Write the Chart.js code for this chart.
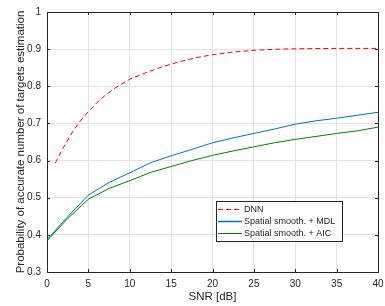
<!DOCTYPE html>
<html>
<head>
<meta charset="utf-8">
<script src="https://cdn.jsdelivr.net/npm/chart.js@4.4.1/dist/chart.umd.min.js"></script>
<style>
  html, body { margin: 0; padding: 0; background: #fff; }
  #chart { display: block; }
</style>
</head>
<body>
<canvas id="chart" width="385" height="306"></canvas>
<script>
// SNR grid for the subspace methods (every 2.5 dB)
const snrSS = [0, 2.5, 5, 7.5, 10, 12.5, 15, 17.5, 20, 22.5, 25, 27.5, 30, 32.5, 35, 37.5, 40];
const mdlValues = [0.387, 0.449, 0.507, 0.541, 0.567, 0.594, 0.613, 0.630, 0.648, 0.661, 0.673, 0.685, 0.698, 0.707, 0.714, 0.722, 0.730];
const aicValues = [0.384, 0.444, 0.496, 0.525, 0.546, 0.568, 0.584, 0.600, 0.614, 0.626, 0.637, 0.648, 0.657, 0.665, 0.673, 0.680, 0.690];

// DNN curve
const snrDnn = [1, 2, 3, 4, 5, 6, 7, 8, 9, 10, 12, 14, 16, 18, 20, 22, 25, 28, 30, 35, 40];
const dnnValues = [0.593, 0.636, 0.674, 0.706, 0.732, 0.755, 0.775, 0.792, 0.806, 0.819, 0.837, 0.853, 0.866, 0.877, 0.885, 0.891, 0.897, 0.900, 0.901, 0.902, 0.902];

const labels = ['DNN', 'Spatial smooth. + MDL', 'Spatial smooth. + AIC'];
const xTicks = [0, 5, 10, 15, 20, 25, 30, 35, 40];
const yTicks = [0.3, 0.4, 0.5, 0.6, 0.7, 0.8, 0.9, 1];

const axisColor = '#262626';
const font = "'Liberation Sans', Arial, Helvetica, sans-serif";

const toPoints = (xs, ys) => xs.map((x, i) => ({ x: x, y: ys[i] }));

// box around the axes, inward ticks and the legend
const boxPlugin = {
  id: 'box',
  afterDraw(chart) {
    const ctx = chart.ctx;
    const a = chart.chartArea;
    const sx = chart.scales.x, sy = chart.scales.y;
    ctx.save();
    ctx.strokeStyle = axisColor;
    ctx.lineWidth = 1;
    ctx.strokeRect(Math.round(a.left) + 0.5, Math.round(a.top) + 0.5,
      Math.round(a.right - a.left), Math.round(a.bottom - a.top));
    ctx.beginPath();
    xTicks.forEach(t => {
      const px = Math.round(sx.getPixelForValue(t)) + 0.5;
      ctx.moveTo(px, a.bottom); ctx.lineTo(px, a.bottom - 3);
      ctx.moveTo(px, a.top); ctx.lineTo(px, a.top + 3);
    });
    yTicks.forEach(t => {
      const py = Math.round(sy.getPixelForValue(t)) + 0.5;
      ctx.moveTo(a.left, py); ctx.lineTo(a.left + 3, py);
      ctx.moveTo(a.right, py); ctx.lineTo(a.right - 3, py);
    });
    ctx.stroke();

    // legend
    const lx = 216, ly = 201, lw = 126, lh = 40;
    ctx.fillStyle = '#fff';
    ctx.fillRect(lx, ly, lw, lh);
    ctx.strokeRect(lx + 0.5, ly + 0.5, lw, lh);
    ctx.font = '9px ' + font;
    ctx.textBaseline = 'middle';
    chart.data.datasets.forEach((ds, i) => {
      const y = ly + 8.5 + i * 12;
      ctx.beginPath();
      ctx.strokeStyle = ds.borderColor;
      ctx.lineWidth = i === 1 ? 1.5 : 1;
      ctx.setLineDash(ds.borderDash || []);
      ctx.moveTo(lx + 2, y); ctx.lineTo(lx + 26, y);
      ctx.stroke();
      ctx.setLineDash([]);
      ctx.fillStyle = axisColor;
      ctx.fillText(ds.label, lx + 28, y);
    });
    ctx.restore();
  }
};

new Chart(document.getElementById('chart'), {
  type: 'line',
  data: {
    datasets: [
      { label: labels[0], data: toPoints(snrDnn, dnnValues), borderColor: 'rgb(255,0,0)', borderWidth: 1, borderDash: [5, 3], pointRadius: 0, fill: false },
      { label: labels[1], data: toPoints(snrSS, mdlValues), borderColor: 'rgb(0,114,189)', borderWidth: 1, pointRadius: 0, fill: false },
      { label: labels[2], data: toPoints(snrSS, aicValues), borderColor: 'rgb(0,128,0)', borderWidth: 1, pointRadius: 0, fill: false }
    ]
  },
  options: {
    responsive: false,
    animation: false,
    layout: { padding: { left: 0, right: 7, top: 12, bottom: 0 } },
    plugins: { legend: { display: false }, tooltip: { enabled: false } },
    scales: {
      x: {
        type: 'linear', min: 0, max: 40,
        afterBuildTicks: s => { s.ticks = xTicks.map(v => ({ value: v })); },
        afterFit: s => { s.height = 34; s.paddingLeft = 0; s.paddingRight = 0; },
        grid: { color: '#e3e3e3', drawTicks: false },
        border: { display: false },
        ticks: { color: axisColor, font: { family: font, size: 10 }, padding: 6, maxRotation: 0 },
        title: { display: true, text: 'SNR [dB]', color: axisColor, font: { family: font, size: 11.5 }, padding: { top: 0, bottom: 2 } }
      },
      y: {
        type: 'linear', min: 0.3, max: 1,
        afterBuildTicks: s => { s.ticks = yTicks.map(v => ({ value: v })); },
        afterFit: s => { s.width = 47; s.paddingTop = 0; s.paddingBottom = 0; },
        grid: { color: '#e3e3e3', drawTicks: false },
        border: { display: false },
        ticks: { color: axisColor, font: { family: font, size: 10 }, padding: 6, callback: v => String(Number(v.toFixed(1))) },
        title: { display: true, text: 'Probability of accurate number of targets estimation', color: axisColor, font: { family: font, size: 11.5 }, padding: { top: 14, bottom: 0 } }
      }
    }
  },
  plugins: [boxPlugin]
});
</script>
</body>
</html>
